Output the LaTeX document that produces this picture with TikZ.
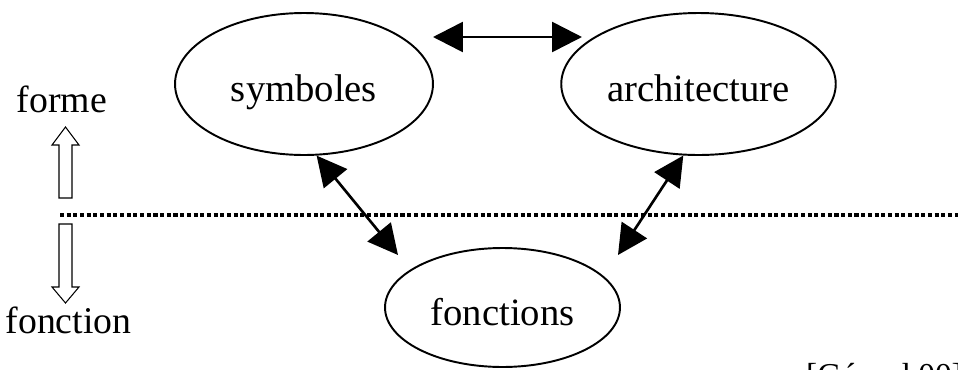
\documentclass[tikz,border=0pt]{standalone}
\usepackage{fontspec}
\setmainfont{Liberation Serif}
\usetikzlibrary{arrows.meta,shapes.geometric}

\begin{document}
\begin{tikzpicture}[x=0.02cm,y=-0.02cm,
  bulle/.style={draw,ellipse,line width=1.1pt,text height=23pt,text depth=3pt,font=\fontsize{22}{26}\selectfont},
  lien/.style={line width=1.5pt,{Triangle[length=17pt,width=17pt]}-{Triangle[length=17pt,width=17pt]}},
  mot/.style={anchor=base,font=\fontsize{21.5}{26}\selectfont}]
\useasboundingbox (0,0) rectangle (958,369);

\node[bulle,minimum width=5.16cm,minimum height=2.84cm] (sym) at (304,84) {symboles};
\node[bulle,minimum width=5.14cm,minimum height=2.84cm] (arch) at (698.5,84) {architecture};
\node[bulle,minimum width=4.7cm,minimum height=2.38cm] (fonc) at (502.5,307.5) {fonctions};

\coordinate (tl) at (433,37);
\coordinate (tr) at (582,37);
\coordinate (fw) at (398,255);
\coordinate (fe) at (618,255);
\draw[lien] (tl) -- (tr);
\draw[lien] (sym.-80) -- (fw);
\draw[lien] (arch.-102) -- (fe);

\draw[line width=2pt,dash pattern=on 2.3pt off 1.5pt] (60,215) -- (958,215);

\node[mot] (forme) at (62,112) {forme};
\node[mot] (fonction) at (68.5,333) {fonction};
\draw[line width=0.6pt] (59,198) -- (59,145) -- (52,145) -- (65.5,127) -- (79,145) -- (72,145) -- (72,198) -- cycle;
\draw[line width=0.6pt] (59,224) -- (59,287) -- (52,287) -- (65.5,303) -- (79,287) -- (72,287) -- (72,224) -- cycle;

\node[anchor=base west,font=\fontsize{19}{22}\selectfont] (ref) at (800,386) {[Gérard 00]};
\end{tikzpicture}
\end{document}
